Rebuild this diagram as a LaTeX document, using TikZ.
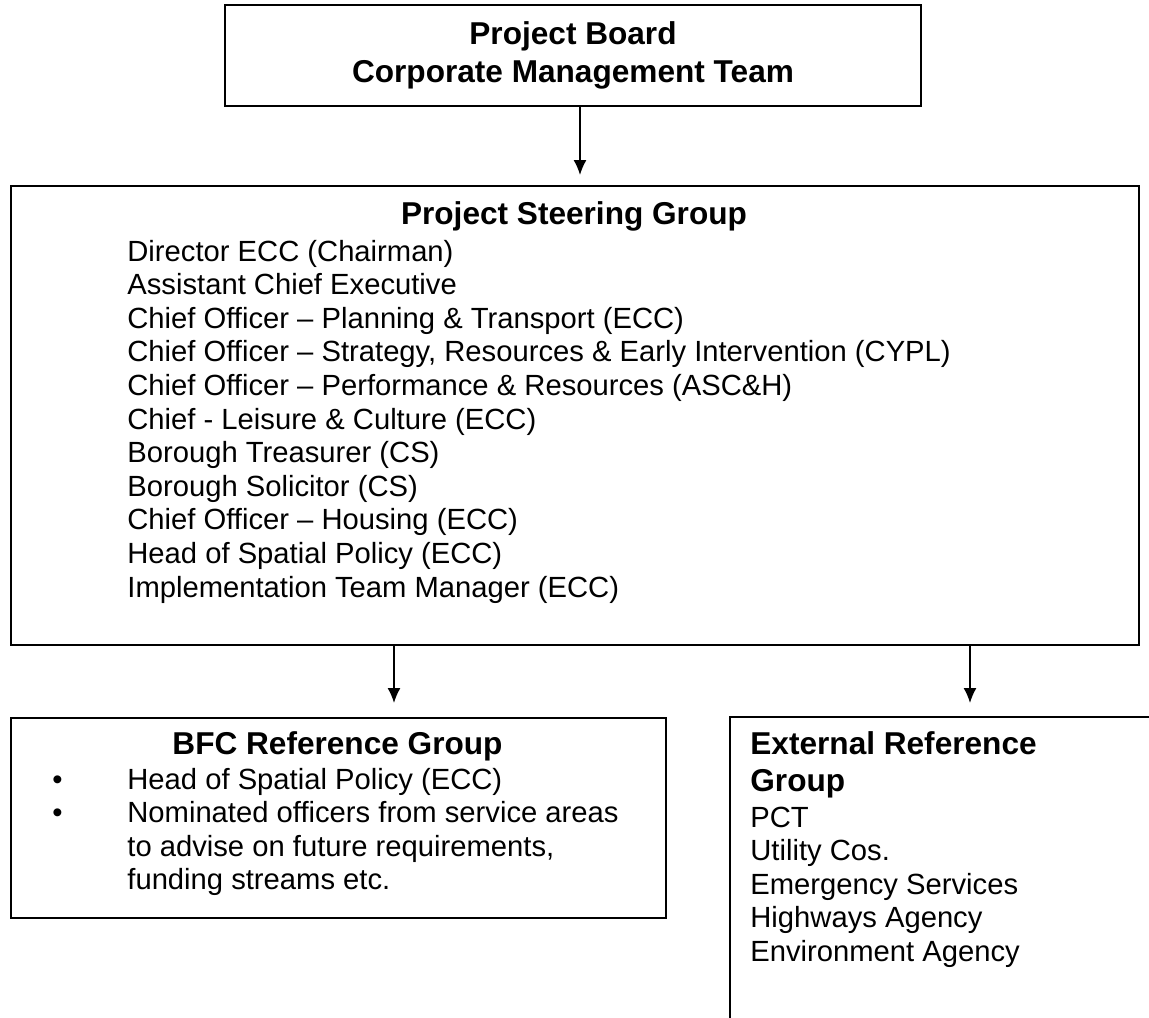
\documentclass[tikz,border=0pt]{standalone}
\usepackage{fontspec}
\setmainfont{Liberation Sans}
\usetikzlibrary{arrows.meta}

\tikzset{
    box/.style ={
        rectangle,
        minimum width =50pt,
        minimum height =20pt,
        inner sep=0pt,
        line width=1pt,
        draw=black
    },
    heading/.style ={
        inner sep=0pt,
        font=\fontsize{15.8pt}{18.75pt}\selectfont\bfseries
    },
    members/.style ={
        inner sep=0pt,
        font=\fontsize{14.6pt}{16.8pt}\selectfont
    },
    arr/.style ={
        -{Latex[length=7.5pt,width=6.5pt]},
        line width=0.75pt
    }
}

\begin{document}
\begin{tikzpicture}[x=0.5pt, y=-0.5pt]
        \useasboundingbox (0,0) rectangle (1149,1017);
        \clip (0,0) rectangle (1149,1017);

        % boxes
        \node[box, minimum width=348pt, minimum height=50.5pt, align=center,
              font=\fontsize{15.8pt}{18.75pt}\selectfont\bfseries] (BOARD) at(573,55.5)
              {Project Board\\Corporate Management Team};
        \node[box, anchor=north west, minimum width=564pt, minimum height=229.5pt] (STEER) at(10,185) {};
        \node[box, anchor=north west, minimum width=327.5pt, minimum height=100pt] (BFC) at(10,717) {};
        \node[box, anchor=north west, minimum width=250pt, minimum height=200pt] (EXT) at(729,716) {};

        % steering group
        \node[heading, anchor=base] (STEERHEAD) at(574,224) {Project Steering Group};
        \node[members, anchor=base west] (STEERLIST) at(127,261) {%
            \begin{tabular}[t]{@{}l@{}}
            Director ECC (Chairman)\\
            Assistant Chief Executive\\
            Chief Officer – Planning \& Transport (ECC)\\
            Chief Officer – Strategy, Resources \& Early Intervention (CYPL)\\
            Chief Officer – Performance \& Resources (ASC\&H)\\
            Chief - Leisure \& Culture (ECC)\\
            Borough Treasurer (CS)\\
            Borough Solicitor (CS)\\
            Chief Officer – Housing (ECC)\\
            Head of Spatial Policy (ECC)\\
            Implementation Team Manager (ECC)
            \end{tabular}};

        % bfc group
        \node[heading, anchor=base] (BFCHEAD) at(337.5,754) {BFC Reference Group};
        \node[members, anchor=base west] (BFCLIST) at(52,789) {%
            \begin{tabular}[t]{@{}p{37.5pt}@{}l@{}}
            \textbullet & Head of Spatial Policy (ECC)\\
            \textbullet & Nominated officers from service areas\\
                        & to advise on future requirements,\\
                        & funding streams etc.
            \end{tabular}};

        % external group
        \node[heading, anchor=base west] (EXTHEAD) at(750,754) {%
            \begin{tabular}[t]{@{}l@{}}External Reference\\Group\end{tabular}};
        \node[members, anchor=base west] (EXTLIST) at(750,827) {%
            \begin{tabular}[t]{@{}l@{}}
            PCT\\
            Utility Cos.\\
            Emergency Services\\
            Highways Agency\\
            Environment Agency
            \end{tabular}};

        % arrows
        \coordinate (STEERIN) at(580,175);
        \coordinate (BFCIN) at(394,703);
        \coordinate (EXTIN) at(970,703);
        \draw[arr] (BOARD.south -| STEERIN)--(STEERIN);
        \draw[arr] (STEER.south -| BFCIN)--(BFCIN);
        \draw[arr] (STEER.south -| EXTIN)--(EXTIN);
    \end{tikzpicture}
\end{document}
